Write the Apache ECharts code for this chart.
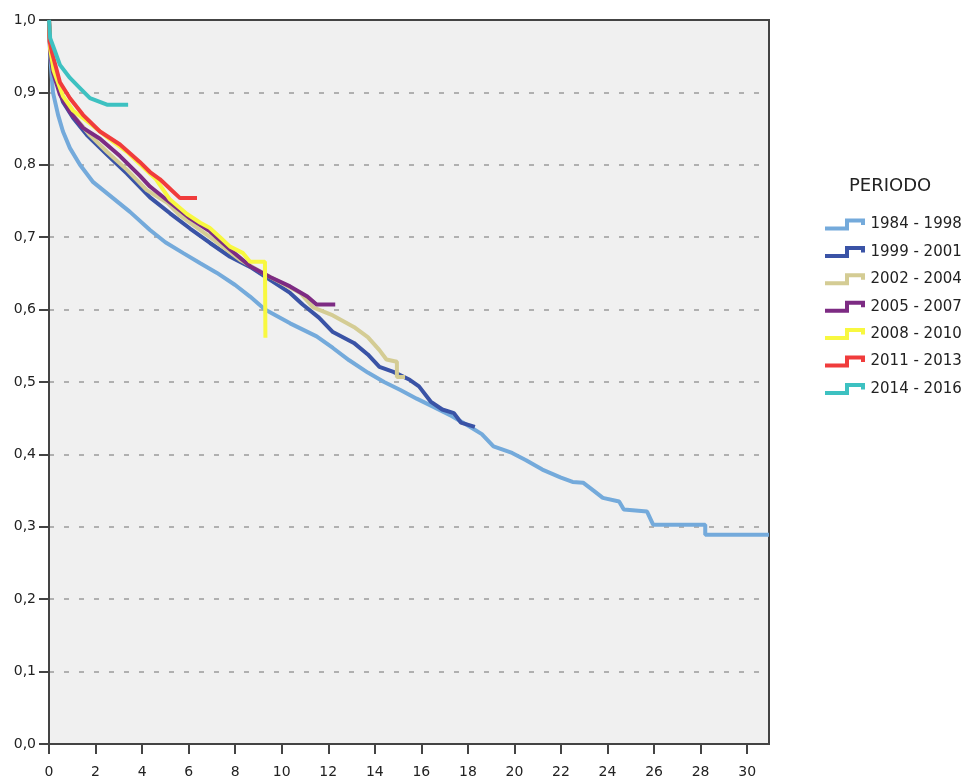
<!DOCTYPE html>
<html>
<head>
<meta charset="utf-8">
<script src="https://cdn.jsdelivr.net/npm/echarts@6/dist/echarts.min.js"></script>
<style>
  html, body { margin: 0; padding: 0; background: #fff; }
  #chart { width: 965px; height: 779px; }
</style>
</head>
<body>
<div id="chart"></div>
<script>
// periodos (leyenda)
const periodos = ['1984 - 1998', '1999 - 2001', '2002 - 2004', '2005 - 2007', '2008 - 2010', '2011 - 2013', '2014 - 2016']
const colores = ['#74aadb', '#3a53a6', '#d4cc94', '#7d2b83', '#f8f840', '#f03c3c', '#3dc1c1']

// ticks del eje X
const xTicks = [0, 2, 4, 6, 8, 10, 12, 14, 16, 18, 20, 22, 24, 26, 28, 30]

// curvas de supervivencia [tiempo, proporcion]
const s1984 = [[0,1],[0.05,0.95],[0.17,0.90],[0.39,0.869],[0.6,0.846],[0.9,0.823],[1.33,0.80],[1.9,0.776],[2.75,0.754],[3.48,0.735],[4.34,0.71],[5.0,0.693],[5.77,0.678],[6.5,0.664],[7.2,0.651],[8.0,0.634],[8.64,0.618],[9.28,0.60],[10.36,0.581],[11.5,0.563],[12.2,0.547],[12.9,0.530],[13.7,0.513],[14.4,0.500],[15.1,0.489],[15.8,0.477],[16.5,0.466],[17.3,0.453],[18.0,0.440],[18.6,0.428],[19.1,0.411],[19.9,0.402],[20.5,0.392],[21.2,0.379],[22.0,0.368],[22.5,0.362],[22.95,0.361],[23.4,0.350],[23.8,0.340],[24.5,0.335],[24.7,0.324],[25.7,0.321],[25.96,0.303],[28.2,0.303],[28.2,0.289],[30.94,0.289]]
const s1999 = [[0,1],[0.05,0.96],[0.12,0.947],[0.34,0.914],[0.6,0.887],[1.03,0.865],[1.63,0.841],[2.49,0.814],[3.35,0.788],[4.34,0.755],[5.2,0.733],[6.06,0.712],[6.92,0.692],[7.78,0.673],[8.64,0.659],[9.5,0.641],[10.36,0.623],[10.9,0.607],[11.6,0.589],[12.2,0.569],[13.1,0.554],[13.7,0.538],[14.2,0.521],[14.8,0.514],[15.5,0.503],[15.9,0.494],[16.4,0.473],[16.9,0.462],[17.4,0.457],[17.7,0.444],[18.3,0.438]]
const s2002 = [[0,1],[0.05,0.96],[0.17,0.938],[0.47,0.900],[1.03,0.869],[1.76,0.841],[2.49,0.818],[3.35,0.793],[4.2,0.765],[5.07,0.748],[5.63,0.730],[6.92,0.700],[8.2,0.669],[9.5,0.645],[10.8,0.623],[11.35,0.603],[12.2,0.592],[13.1,0.576],[13.7,0.562],[14.2,0.544],[14.5,0.531],[14.95,0.528],[14.95,0.507],[15.3,0.507]]
const s2005 = [[0,1],[0.05,0.955],[0.17,0.928],[0.47,0.897],[0.9,0.873],[1.46,0.851],[2.19,0.836],[3.05,0.812],[3.9,0.785],[4.34,0.770],[5.2,0.748],[6.06,0.726],[6.92,0.708],[7.78,0.683],[8.64,0.660],[9.5,0.645],[10.36,0.632],[11.1,0.618],[11.5,0.607],[12.3,0.607]]
const s2008 = [[0,1],[0.05,0.96],[0.2,0.93],[0.6,0.895],[1.03,0.875],[1.76,0.857],[2.62,0.835],[3.35,0.818],[4.2,0.792],[4.6,0.78],[5.2,0.752],[5.93,0.732],[6.5,0.72],[6.9,0.713],[7.35,0.700],[7.78,0.687],[8.34,0.678],[8.64,0.666],[9.28,0.666],[9.3,0.561]]
const s2011 = [[0,1],[0.03,0.97],[0.12,0.956],[0.47,0.914],[0.9,0.892],[1.46,0.869],[2.19,0.846],[3.05,0.828],[3.9,0.804],[4.34,0.79],[4.77,0.78],[5.2,0.767],[5.63,0.754],[6.36,0.754]]
const s2014 = [[0,1],[0.05,0.975],[0.21,0.961],[0.47,0.938],[0.9,0.920],[1.33,0.906],[1.76,0.892],[2.49,0.883],[3.4,0.883]]

const curvas = [s1984, s1999, s2002, s2005, s2008, s2011, s2014]

// icono escalonado de la leyenda
const stepIcon = 'path://M0 8L20 8L20 0L40 0L40 6.5L36 6.5L36 4L24 4L24 12L0 12Z'

const fuente = 'DejaVu Sans'
const coma = v => v.toFixed(1).replace('.', ',')

const chart = echarts.init(document.getElementById('chart'))
chart.setOption({
    animation: false,
    color: colores,
    textStyle: { fontFamily: fuente },
    title: {
        text: 'PERIODO',
        left: 844, top: 172,
        textStyle: { fontFamily: fuente, fontSize: 18, fontWeight: 'normal', color: '#222' }
    },
    legend: {
        orient: 'vertical',
        left: 820, top: 212,
        itemWidth: 41, itemHeight: 12, itemGap: 12.4,
        icon: stepIcon,
        data: periodos,
        textStyle: { fontFamily: fuente, fontSize: 15, color: '#222' }
    },
    grid: {
        left: 49, top: 20, right: 196, bottom: 34.5,
        show: true,
        backgroundColor: '#f0f0f0',
        borderColor: '#444',
        borderWidth: 2
    },
    xAxis: {
        type: 'value',
        min: 0, max: 30.94, interval: 2,
        axisLine: { show: true, lineStyle: { color: '#444', width: 2 } },
        axisTick: { show: true, length: 10, customValues: xTicks, lineStyle: { color: '#444', width: 2 } },
        axisLabel: { customValues: xTicks, margin: 21, fontSize: 14, color: '#222', fontFamily: fuente },
        splitLine: { show: false }
    },
    yAxis: {
        type: 'value',
        min: 0, max: 1, interval: 0.1,
        axisLine: { show: true, lineStyle: { color: '#444', width: 2 } },
        axisTick: { show: true, length: 10, lineStyle: { color: '#444', width: 2 } },
        axisLabel: { formatter: coma, margin: 13, fontSize: 14, color: '#222', fontFamily: fuente },
        splitLine: { show: true, showMinLine: false, showMaxLine: false, lineStyle: { color: '#9a9a9a', width: 1.5, type: [5, 10] } }
    },
    series: curvas.map((d, i) => ({
        name: periodos[i],
        type: 'line',
        data: d,
        symbol: 'none',
        lineStyle: { width: 4, color: colores[i] },
        itemStyle: { color: colores[i] }
    }))
})
</script>
</body>
</html>
